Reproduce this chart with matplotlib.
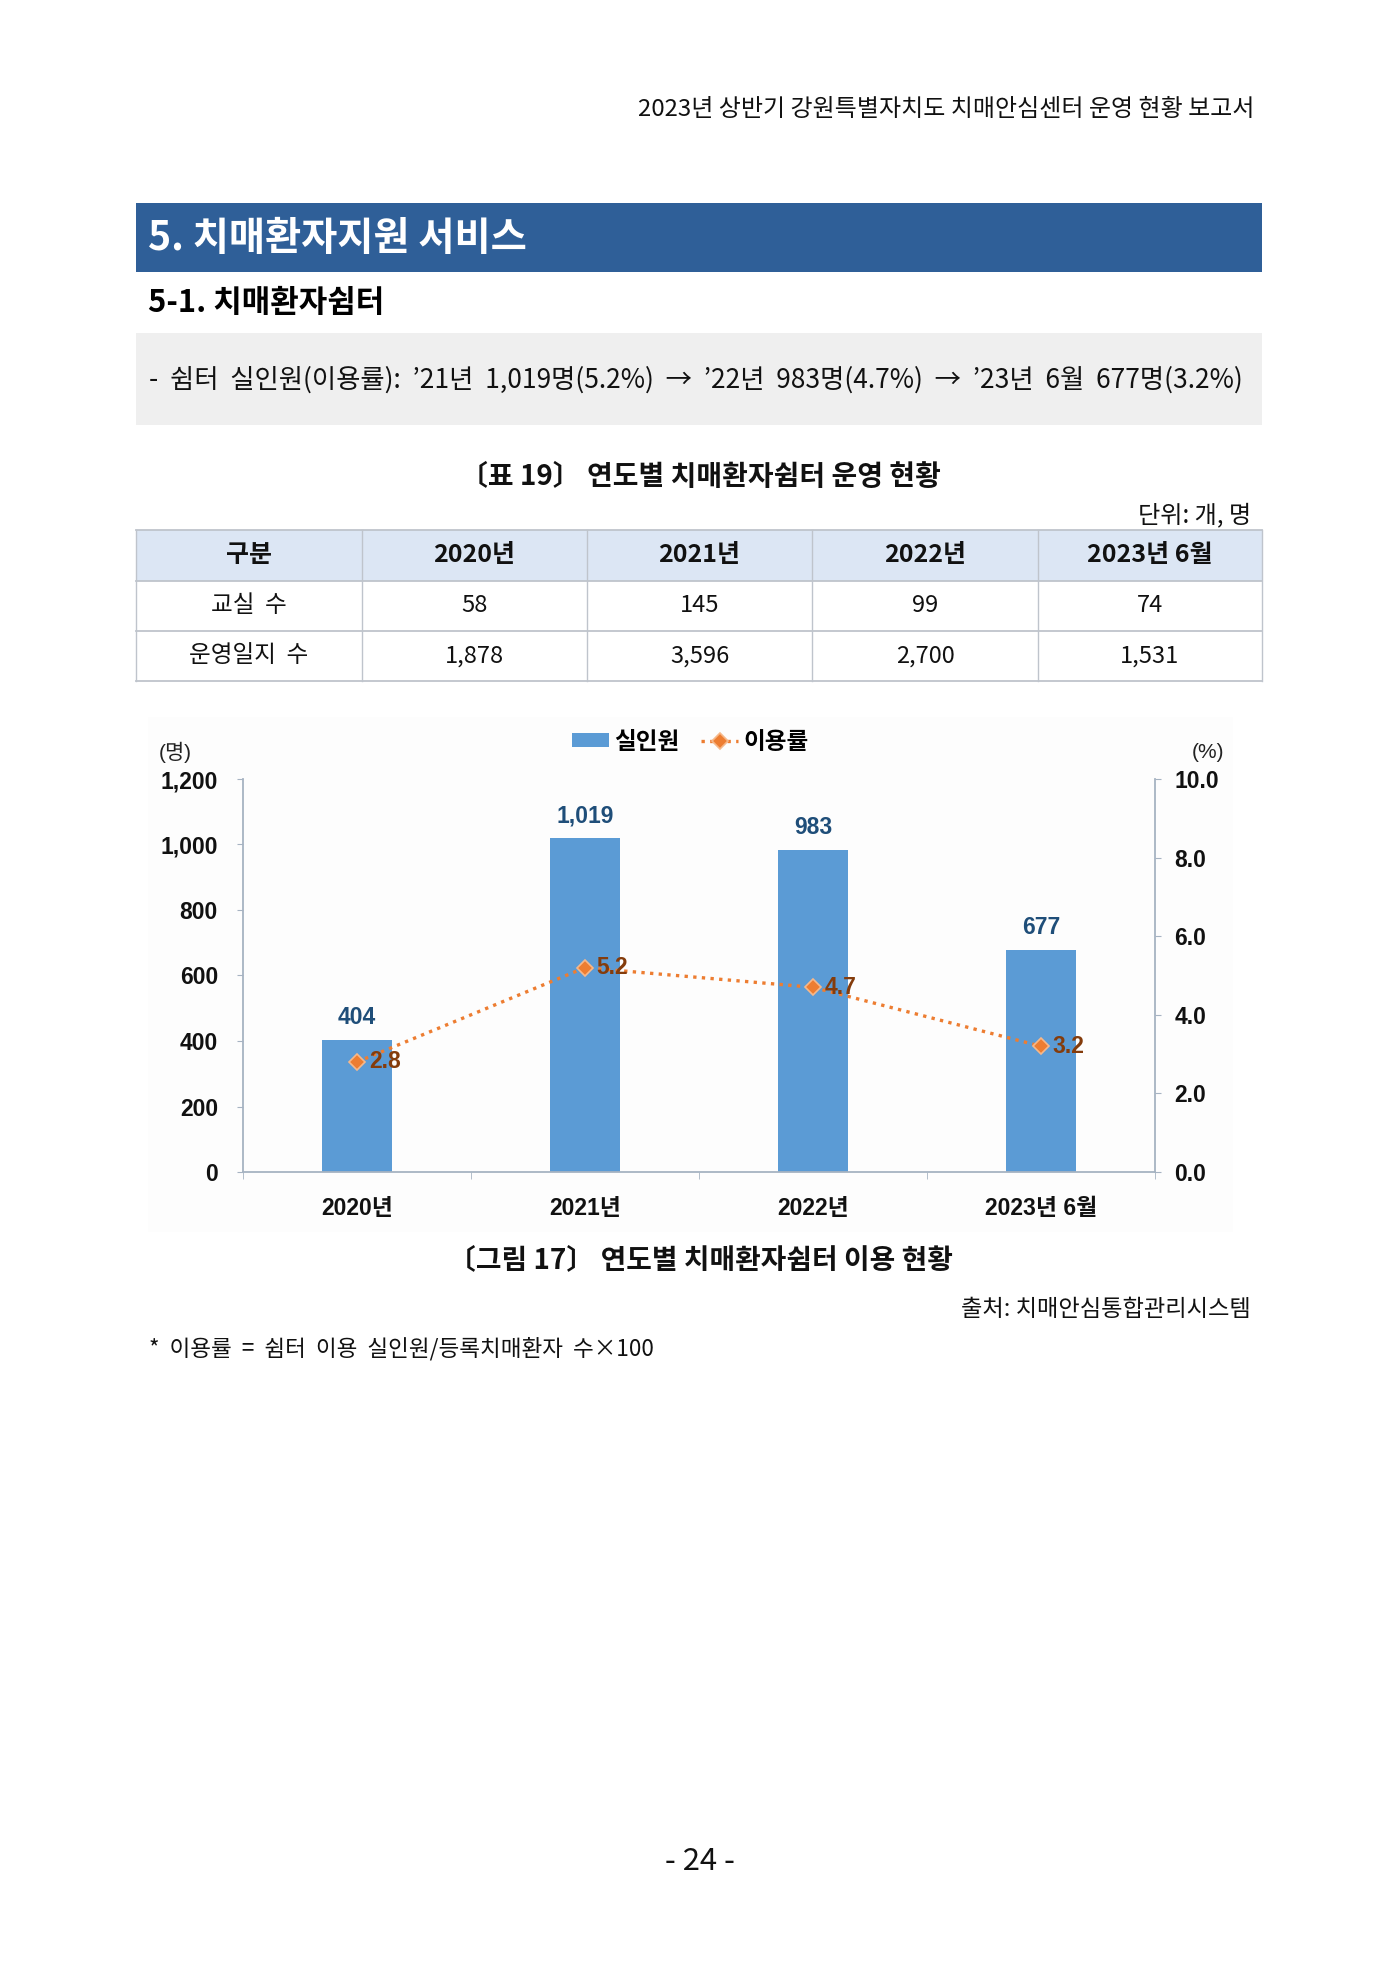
import matplotlib
matplotlib.use("Agg")
import matplotlib.pyplot as plt
from matplotlib.patches import Rectangle
from matplotlib.ticker import FixedLocator, FuncFormatter

# ---------------- data ----------------
categories = ["2020년", "2021년", "2022년", "2023년 6월"]
real_persons = [404, 1019, 983, 677]
usage_rate = [2.8, 5.2, 4.7, 3.2]

table_cols = ["구분", "2020년", "2021년", "2022년", "2023년 6월"]
table_rows = ["교실 수", "운영일지 수"]
classrooms = ["58", "145", "99", "74"]
logs = ["1,878", "3,596", "2,700", "1,531"]

left_ticks = [0, 200, 400, 600, 800, 1000, 1200]
right_ticks = [0, 2, 4, 6, 8, 10]

# ---------------- styling ----------------
plt.rcParams['font.family'] = ['Noto Sans CJK KR', 'DejaVu Sans']
CHART_FONT = ['Liberation Sans', 'Noto Sans CJK KR', 'DejaVu Sans']
BAR_C = "#5B9BD5"
LINE_C = "#ED7D31"
AXIS_C = "#A6B3C2"
TICK_FS = 16.5

W, H = 1400, 1980
fig = plt.figure(figsize=(W / 100, H / 100), dpi=100)
fig.patch.set_facecolor("white")

page = fig.add_axes([0, 0, 1, 1])
page.set_xlim(0, W)
page.set_ylim(H, 0)
page.axis("off")

renderer = fig.canvas.get_renderer()


def fit(t, target):
    w = t.get_window_extent(renderer).width
    t.set_fontsize(t.get_fontsize() * target / w)
    return t


# header line
t = page.text(1255, 110, "2023년 상반기 강원특별자치도 치매안심센터 운영 현황 보고서",
              ha="right", va="center", fontsize=16, color="#111111")
fit(t, 617)

# blue banner
page.add_patch(Rectangle((136, 203), 1126, 69, facecolor="#2F5F98", edgecolor="none"))
t = page.text(148, 238, "5. 치매환자지원 서비스", ha="left", va="center",
              fontsize=26, color="white", fontweight="bold")
fit(t, 380)

t = page.text(148, 303, "5-1. 치매환자쉼터", ha="left", va="center",
              fontsize=20, color="black", fontweight="bold")
fit(t, 236)

# grey summary box
page.add_patch(Rectangle((136, 333), 1126, 92, facecolor="#EFEFEF", edgecolor="none"))
t = page.text(149, 380,
              "-  쉼터  실인원(이용률):  ’21년  1,019명(5.2%)  →  ’22년  983명(4.7%)  →  ’23년  6월  677명(3.2%)",
              ha="left", va="center", fontsize=19, color="#111111")
fit(t, 1093)

# table caption
t = page.text(700, 477, "〔표 19〕 연도별 치매환자쉼터 운영 현황", ha="center", va="center",
              fontsize=18, fontweight="bold", color="#111111")
fit(t, 480)
t = page.text(1251, 515, "단위: 개, 명", ha="right", va="center", fontsize=15, color="#111111")
fit(t, 113)

# table
col_x = [136, 362, 587, 812, 1038, 1262]
row_y = [530, 581, 631, 681]
page.add_patch(Rectangle((col_x[0], row_y[0]), col_x[-1] - col_x[0], row_y[1] - row_y[0],
                         facecolor="#DCE6F4", edgecolor="none"))
for y in row_y:
    page.plot([col_x[0], col_x[-1]], [y, y], color="#BFC4CC", lw=1.3)
for x in col_x:
    page.plot([x, x], [row_y[0], row_y[-1]], color="#BFC4CC", lw=1.0)

for i, c in enumerate(table_cols):
    cx = (col_x[i] + col_x[i + 1]) / 2
    page.text(cx, (row_y[0] + row_y[1]) / 2, c, ha="center", va="center",
              fontsize=18, fontweight="bold", color="#111111")
for r, (label, vals) in enumerate(zip(table_rows, [classrooms, logs])):
    cy = (row_y[r + 1] + row_y[r + 2]) / 2
    page.text((col_x[0] + col_x[1]) / 2, cy, label.replace(" ", "  "), ha="center", va="center",
              fontsize=17, color="#111111")
    for i, v in enumerate(vals):
        cx = (col_x[i + 1] + col_x[i + 2]) / 2
        page.text(cx, cy, v, ha="center", va="center", fontsize=17, color="#111111")

# faint chart background
page.add_patch(Rectangle((148, 717), 1085, 515, facecolor="#FDFDFD", edgecolor="none"))

# ---------------- chart ----------------
ax_l, ax_r, ax_t, ax_b = 243, 1155, 779, 1172
ax = fig.add_axes([ax_l / W, 1 - ax_b / H, (ax_r - ax_l) / W, (ax_b - ax_t) / H])
ax.set_facecolor("none")
xs = list(range(len(categories)))
bars = ax.bar(xs, real_persons, width=0.31, color=BAR_C, zorder=2, label="실인원")
ax.set_xlim(-0.5, len(categories) - 0.5)
ax.set_ylim(0, 1200)
ax.yaxis.set_major_locator(FixedLocator(left_ticks))
ax.yaxis.set_major_formatter(FuncFormatter(lambda v, p: f"{int(v):,}"))
ax.set_xticks(xs)
ax.set_xticklabels(categories)
ax.xaxis.set_minor_locator(FixedLocator([i - 0.5 for i in range(len(categories) + 1)]))
ax.tick_params(axis="x", which="major", length=0, pad=18)
ax.tick_params(axis="x", which="minor", length=5, color=AXIS_C, direction="out")
ax.tick_params(axis="y", length=4, color=AXIS_C, pad=14)
for sp in ["top", "right"]:
    ax.spines[sp].set_visible(False)
for sp in ["left", "bottom"]:
    ax.spines[sp].set_color(AXIS_C)
    ax.spines[sp].set_linewidth(1.3)
for lab in ax.get_xticklabels() + ax.get_yticklabels():
    lab.set_family(CHART_FONT)
    lab.set_fontweight("bold")
    lab.set_fontsize(TICK_FS)
    lab.set_color("#111111")

for x, v in zip(xs, real_persons):
    ax.annotate(f"{v:,}", (x, v), xytext=(0, 8), textcoords="offset points",
                ha="center", va="bottom", fontsize=TICK_FS, fontweight="bold",
                color="#1F4E79", family=CHART_FONT)

ax2 = ax.twinx()
ax2.set_ylim(0, 10)
ax2.yaxis.set_major_locator(FixedLocator(right_ticks))
ax2.yaxis.set_major_formatter(FuncFormatter(lambda v, p: f"{v:.1f}"))
line, = ax2.plot(xs, usage_rate, linestyle=(0, (1, 1.6)), color=LINE_C, lw=2.4,
                 marker="D", markersize=8, markerfacecolor=LINE_C,
                 markeredgecolor="#F6B88A", markeredgewidth=1.2, zorder=3, label="이용률")
for sp in ["top", "left", "bottom"]:
    ax2.spines[sp].set_visible(False)
ax2.spines["right"].set_color(AXIS_C)
ax2.spines["right"].set_linewidth(1.3)
ax2.tick_params(axis="y", length=4, color=AXIS_C, pad=10)
for lab in ax2.get_yticklabels():
    lab.set_family(CHART_FONT)
    lab.set_fontweight("bold")
    lab.set_fontsize(TICK_FS)
    lab.set_color("#111111")
for x, v in zip(xs, usage_rate):
    ax2.annotate(f"{v:.1f}", (x, v), xytext=(8.5, 0), textcoords="offset points",
                 ha="left", va="center", fontsize=TICK_FS, fontweight="bold",
                 color="#843C0C", family=CHART_FONT)

# axis unit labels
page.text(175, 752, "(명)", ha="center", va="center", fontsize=15, color="#222222",
          family=CHART_FONT)
page.text(1208, 752, "(%)", ha="center", va="center", fontsize=15, color="#222222",
          family=CHART_FONT)

# legend
leg = fig.legend(handles=[bars, line], labels=["실인원", "이용률"], loc="center",
                 bbox_to_anchor=(690 / W, 1 - 742 / H), ncol=2, frameon=False,
                 handlelength=1.6, handleheight=0.5, handletextpad=0.2, columnspacing=0.9,
                 prop={"family": CHART_FONT, "weight": "bold", "size": 17})

# captions & notes
t = page.text(700, 1260, "〔그림 17〕 연도별 치매환자쉼터 이용 현황", ha="center", va="center",
              fontsize=18, fontweight="bold", color="#111111")
fit(t, 504)
t = page.text(1251, 1309, "출처: 치매안심통합관리시스템", ha="right", va="center",
              fontsize=15, color="#111111")
fit(t, 289)
t = page.text(149, 1349, "*  이용률  =  쉼터  이용  실인원/등록치매환자  수×100", ha="left", va="center",
              fontsize=15, color="#111111")
fit(t, 504)
t = page.text(700, 1862, "- 24 -", ha="center", va="center", fontsize=15, color="#111111")
fit(t, 70)

fig.savefig("out.png", dpi=100, facecolor="white")
